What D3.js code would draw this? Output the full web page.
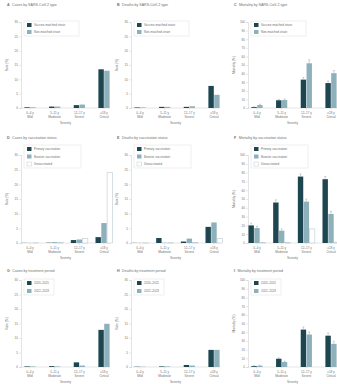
<!DOCTYPE html>
<html>
<head>
<meta charset="utf-8">
<script src="https://cdn.jsdelivr.net/npm/d3@7"></script>
<style>
  html, body { margin: 0; padding: 0; background: #fff; }
  svg { display: block; font-family: "Liberation Sans", Arial, sans-serif; }
</style>
</head>
<body>
<svg id="fig" width="337" height="384"></svg>
<script>
// ---- categories and tick labels ----
const categories = ["Mild", "Moderate", "Severe", "Critical"];
const ageBands = ["0–4 y", "5–11 y", "12–17 y", "≥18 y"];
const rateTicks = [0, 5, 10, 15, 20, 25, 30];
const mortalityTicks = [0, 10, 20, 30, 40, 50, 60, 70, 80, 90, 100];

// ---- row 1: by variant type ----
const typeLegend = ["Vaccine-matched strain", "Non-matched strain"];
const casesMatched   = [0.25, 0.5, 1.0, 13.5];
const casesUnmatched = [0.25, 0.5, 1.2, 13.0];
const deathsMatched   = [0.2, 0.4, 0.4, 7.7];
const deathsUnmatched = [0.2, 0.4, 0.6, 4.6];
const mortMatched   = [1.0, 9.0, 33.0, 29.0];
const mortUnmatched = [3.4, 9.2, 52.0, 40.5];
const mortMatchedErr   = [0.5, 1.0, 2.5, 2.5];
const mortUnmatchedErr = [1.0, 1.2, 4.0, 3.0];

// ---- row 2: by vaccination status ----
const statusLegend = ["Primary vaccination", "Booster vaccination", "Unvaccinated"];
const casesPrimary     = [0.05, 0.1, 1.0, 2.0];
const casesBooster     = [0.05, 0.3, 1.2, 6.8];
const casesUnvaccinated = [0.05, 0.2, 1.5, 24.0];
const deathsPrimary     = [0.05, 1.7, 0.5, 5.5];
const deathsBooster     = [0.05, 0.1, 1.5, 7.0];
const deathsUnvaccinated = [0.05, 0.1, 0.2, 1.5];
const mortPrimary     = [20.0, 46.0, 75.5, 72.5];
const mortBooster     = [17.0, 14.0, 47.0, 33.0];
const mortUnvaccinated = [0.5, 0.5, 16.0, 1.0];
const mortPrimaryErr = [2.5, 3.0, 3.0, 3.0];
const mortBoosterErr = [2.0, 2.0, 3.0, 3.0];
const mortUnvaccinatedErr = [0, 0, 0, 0];

// ---- row 3: by treatment period ----
const periodLegend = ["2020–2021", "2022–2023"];
const casesEarly = [0.2, 0.3, 1.6, 12.8];
const casesLate  = [0.2, 0.2, 0.5, 14.9];
const deathsEarly = [0.1, 0.2, 0.7, 5.9];
const deathsLate  = [0.1, 0.2, 0.5, 5.9];
const mortEarly = [1.0, 9.5, 43.0, 36.0];
const mortLate  = [1.5, 5.7, 37.3, 26.6];
const mortEarlyErr = [0.5, 1.0, 3.0, 3.0];
const mortLateErr  = [0.5, 1.0, 3.0, 3.0];

// ---- styling ----
const seriesFill = ["#1d4650", "#8db0bb", "#ffffff"];
const seriesStroke = ["#1d4650", "#8db0bb", "#b9ccd3"];
const textColor = "#6f6f6f";
const axisColor = "#c8c8c8";

// ---- grid geometry ----
const colLeft = [21, 131, 248];
const plotW = 89;
const rowTop = [22, 155, 280];
const rowZero = [108, 243, 367];
const titleY = [5.5, 138.5, 271.5];
const legendY = [[25, 32], [149, 156.5, 164], [283, 291]];

const panels = [
  { row: 0, col: 0, title: "Cases by SARS-CoV-2 type", letter: "A", ytitle: "Rate (%)", ticks: rateTicks,
    legend: typeLegend, series: [casesMatched, casesUnmatched] },
  { row: 0, col: 1, title: "Deaths by SARS-CoV-2 type", letter: "B", ytitle: "Rate (%)", ticks: rateTicks,
    legend: typeLegend, series: [deathsMatched, deathsUnmatched] },
  { row: 0, col: 2, title: "Mortality by SARS-CoV-2 type", letter: "C", ytitle: "Mortality (%)", ticks: mortalityTicks,
    legend: typeLegend, series: [mortMatched, mortUnmatched], err: [mortMatchedErr, mortUnmatchedErr] },
  { row: 1, col: 0, title: "Cases by vaccination status", letter: "D", ytitle: "Rate (%)", ticks: rateTicks,
    legend: statusLegend, series: [casesPrimary, casesBooster, casesUnvaccinated] },
  { row: 1, col: 1, title: "Deaths by vaccination status", letter: "E", ytitle: "Rate (%)", ticks: rateTicks,
    legend: statusLegend, series: [deathsPrimary, deathsBooster, deathsUnvaccinated] },
  { row: 1, col: 2, title: "Mortality by vaccination status", letter: "F", ytitle: "Mortality (%)", ticks: mortalityTicks,
    legend: statusLegend, series: [mortPrimary, mortBooster, mortUnvaccinated], err: [mortPrimaryErr, mortBoosterErr, mortUnvaccinatedErr] },
  { row: 2, col: 0, title: "Cases by treatment period", letter: "G", ytitle: "Rate (%)", ticks: rateTicks,
    legend: periodLegend, series: [casesEarly, casesLate] },
  { row: 2, col: 1, title: "Deaths by treatment period", letter: "H", ytitle: "Rate (%)", ticks: rateTicks,
    legend: periodLegend, series: [deathsEarly, deathsLate] },
  { row: 2, col: 2, title: "Mortality by treatment period", letter: "I", ytitle: "Mortality (%)", ticks: mortalityTicks,
    legend: periodLegend, series: [mortEarly, mortLate], err: [mortEarlyErr, mortLateErr] }
];

const svg = d3.select("#fig");
const barW = 5.4;
const barGap = 0.4;

panels.forEach(p => {
  const left = colLeft[p.col];
  const top = rowTop[p.row];
  const zero = rowZero[p.row];
  const g = svg.append("g");

  const x = d3.scalePoint().domain(categories).range([left + 9, left + 83]);
  const y = d3.scaleLinear()
    .domain([0, p.ticks[p.ticks.length - 1]])
    .range([zero, top]);

  // title
  const t = g.append("text").attr("x", left - 14).attr("y", titleY[p.row])
    .attr("font-size", 3.6).attr("fill", textColor);
  t.append("tspan").attr("font-weight", "bold").text(p.letter);
  t.append("tspan").attr("dx", 2.5).text(p.title);

  // y axis
  const yAxis = g.append("g").attr("transform", `translate(${left},0)`)
    .call(d3.axisLeft(y).tickValues(p.ticks).tickSize(1.6).tickPadding(1.5));
  yAxis.selectAll("text").attr("font-size", 3).attr("fill", textColor);
  yAxis.selectAll("line").attr("stroke", axisColor).attr("stroke-width", 0.5);
  yAxis.select(".domain").attr("stroke", axisColor).attr("stroke-width", 0.5);

  g.append("text")
    .attr("transform", `translate(${left - 13},${(top + zero) / 2}) rotate(-90)`)
    .attr("text-anchor", "middle").attr("font-size", 3.2).attr("fill", textColor)
    .text(p.ytitle);

  // x axis
  g.append("line").attr("x1", left).attr("x2", left + plotW)
    .attr("y1", zero).attr("y2", zero)
    .attr("stroke", axisColor).attr("stroke-width", 0.5);
  categories.forEach((c, i) => {
    const cx = x(c);
    g.append("line").attr("x1", cx).attr("x2", cx).attr("y1", zero).attr("y2", zero + 1.6)
      .attr("stroke", axisColor).attr("stroke-width", 0.5);
    g.append("text").attr("x", cx).attr("y", zero + 6).attr("text-anchor", "middle")
      .attr("font-size", 3).attr("fill", textColor).text(ageBands[i]);
    g.append("text").attr("x", cx).attr("y", zero + 10).attr("text-anchor", "middle")
      .attr("font-size", 3).attr("fill", textColor).text(c);
  });
  g.append("text").attr("x", left + plotW / 2).attr("y", zero + 15.5)
    .attr("text-anchor", "middle").attr("font-size", 3).attr("fill", textColor)
    .text("Severity");

  // bars
  const n = p.series.length;
  const groupW = n * barW + (n - 1) * barGap;
  p.series.forEach((vals, s) => {
    vals.forEach((v, i) => {
      const bx = x(categories[i]) - groupW / 2 + s * (barW + barGap);
      g.append("rect")
        .attr("x", bx).attr("width", barW)
        .attr("y", y(v)).attr("height", zero - y(v))
        .attr("fill", seriesFill[s])
        .attr("stroke", seriesStroke[s]).attr("stroke-width", s === 2 ? 0.6 : 0);
      if (p.err && p.err[s][i] > 0) {
        const e = p.err[s][i];
        const ex = bx + barW / 2;
        g.append("line").attr("x1", ex).attr("x2", ex)
          .attr("y1", y(v)).attr("y2", y(v + e))
          .attr("stroke", "#9aa7ab").attr("stroke-width", 0.5);
        g.append("line").attr("x1", ex - 1).attr("x2", ex + 1)
          .attr("y1", y(v + e)).attr("y2", y(v + e))
          .attr("stroke", "#9aa7ab").attr("stroke-width", 0.5);
      }
    });
  });

  // legend
  const ly = legendY[p.row];
  const lx = left + (p.col === 2 ? 3 : 3);
  const lw = p.row === 2 ? 30 : (p.row === 1 ? 57 : 55);
  g.append("rect").attr("x", lx).attr("y", ly[0] - 4)
    .attr("width", lw).attr("height", ly[ly.length - 1] - ly[0] + 8)
    .attr("fill", "#fff").attr("stroke", "#dddddd").attr("stroke-width", 0.5);
  p.legend.forEach((name, s) => {
    g.append("rect").attr("x", lx + 3).attr("y", ly[s] - 2).attr("width", 4.5).attr("height", 4)
      .attr("fill", seriesFill[s]).attr("stroke", seriesStroke[s]).attr("stroke-width", s === 2 ? 0.5 : 0);
    g.append("text").attr("x", lx + 10).attr("y", ly[s] + 1)
      .attr("font-size", 3).attr("fill", textColor).text(name);
  });
});
</script>
</body>
</html>
